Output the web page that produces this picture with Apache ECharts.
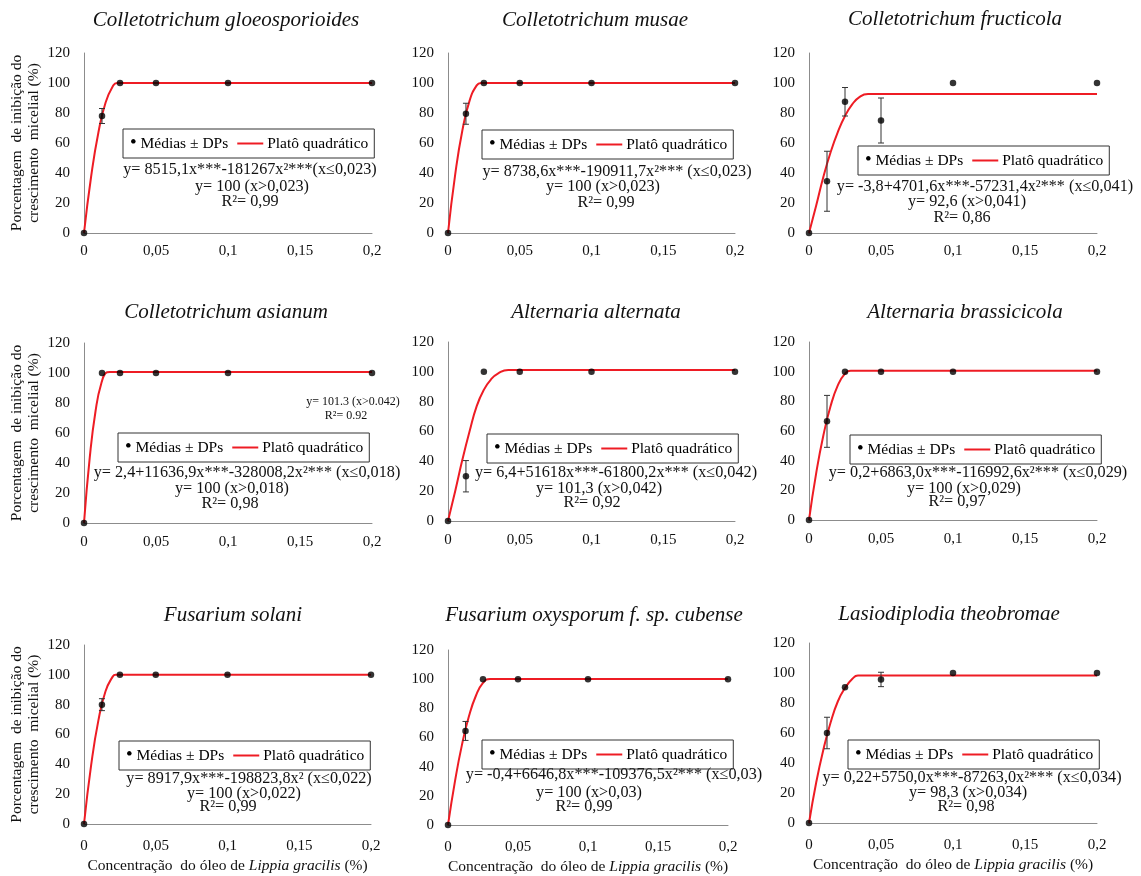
<!DOCTYPE html>
<html><head><meta charset="utf-8">
<script src="https://cdn.jsdelivr.net/npm/echarts@6/dist/echarts.min.js"></script>
<style>html,body{margin:0;padding:0;background:#fff}#c{width:1141px;height:876px}</style>
</head><body><div id="c"></div>
<script>
// ---------- DATA ----------
const xConc = [0, 0.0125, 0.025, 0.05, 0.1, 0.2];
const xTicks = [0, 0.05, 0.1, 0.15, 0.2];
const yTicks = [0, 20, 40, 60, 80, 100, 120];

const panelTitles = [
  'Colletotrichum gloeosporioides', 'Colletotrichum musae', 'Colletotrichum fructicola',
  'Colletotrichum asianum', 'Alternaria alternata', 'Alternaria brassicicola',
  'Fusarium solani', 'Fusarium oxysporum f. sp. cubense', 'Lasiodiplodia theobromae'
];

// means and standard deviations
const meanGloeo = [0, 78, 100, 100, 100, 100];     const sdGloeo = [0, 5, 0, 0, 0, 0];
const meanMusae = [0, 79.5, 100, 100, 100, 100];   const sdMusae = [0, 7, 0, 0, 0, 0];
const meanFruct = [0, 34.5, 87.5, 75, 100, 100];   const sdFruct = [0, 20, 9.5, 15, 0, 0];
const meanAsian = [0, 100, 100, 100, 100, 100];    const sdAsian = [0, 0, 0, 0, 0, 0];
const meanAlter = [0, 30, 100, 100, 100, 100];     const sdAlter = [0, 10.5, 0, 0, 0, 0];
const meanBrass = [0, 66.5, 100, 100, 100, 100];   const sdBrass = [0, 17.5, 0, 0, 0, 0];
const meanSolan = [0, 80, 100, 100, 100, 100];     const sdSolan = [0, 4, 0, 0, 0, 0];
const meanOxysp = [0, 64.5, 100, 100, 100, 100];   const sdOxysp = [0, 6.5, 0, 0, 0, 0];
const meanLasio = [0, 60, 90.5, 95.7, 100, 100];   const sdLasio = [0, 10.5, 0, 4.8, 0, 0];

// fitted "platô quadrático" curves
const fitGloeoX = [0, 0.005, 0.01, 0.015, 0.02, 0.023, 0.2];
const fitGloeoY = [0, 38, 67, 87, 97.8, 100, 100];
const fitMusaeX = [0, 0.005, 0.01, 0.015, 0.02, 0.023, 0.2];
const fitMusaeY = [0, 38.9, 68.3, 88.1, 98.4, 100, 100];
const fitFructX = [0, 0.005, 0.01, 0.015, 0.02, 0.025, 0.03, 0.035, 0.041, 0.2];
const fitFructY = [0, 18.3, 37.5, 53.8, 67.3, 78, 85.7, 90.6, 92.6, 92.6];
const fitAsianX = [0, 0.004, 0.008, 0.012, 0.016, 0.018, 0.2];
const fitAsianY = [0, 43.7, 74.5, 93, 100.5, 100.7, 100.7];
const fitAlterX = [0, 0.005, 0.01, 0.015, 0.02, 0.025, 0.03, 0.035, 0.042, 0.2];
const fitAlterY = [0, 20, 41, 60, 77, 88, 95, 99, 101.3, 101.3];
const fitBrassX = [0, 0.005, 0.01, 0.015, 0.02, 0.025, 0.029, 0.2];
const fitBrassY = [0, 31.6, 57.1, 76.8, 90.7, 98.7, 100.6, 100.6];
const fitSolanX = [0, 0.005, 0.01, 0.015, 0.02, 0.022, 0.2];
const fitSolanY = [0, 39.6, 69.3, 89, 98.8, 100, 100];
const fitOxyspX = [0, 0.005, 0.01, 0.015, 0.02, 0.025, 0.03, 0.2];
const fitOxyspY = [0, 30.1, 55.1, 74.7, 88.8, 97.4, 100.2, 100.2];
const fitLasioX = [0, 0.005, 0.01, 0.015, 0.02, 0.025, 0.03, 0.034, 0.2];
const fitLasioY = [0, 27, 49, 67, 81, 90, 96, 98.3, 98.3];

const equations = [
  ['y= 8515,1x***-181267x²***(x≤0,023)', 'y= 100 (x>0,023)', 'R²= 0,99'],
  ['y= 8738,6x***-190911,7x²*** (x≤0,023)', 'y= 100 (x>0,023)', 'R²= 0,99'],
  ['y= -3,8+4701,6x***-57231,4x²*** (x≤0,041)', 'y= 92,6 (x>0,041)', 'R²= 0,86'],
  ['y= 2,4+11636,9x***-328008,2x²*** (x≤0,018)', 'y= 100 (x>0,018)', 'R²= 0,98'],
  ['y= 6,4+51618x***-61800,2x*** (x≤0,042)', 'y= 101,3 (x>0,042)', 'R²= 0,92'],
  ['y= 0,2+6863,0x***-116992,6x²*** (x≤0,029)', 'y= 100 (x>0,029)', 'R²= 0,97'],
  ['y= 8917,9x***-198823,8x² (x≤0,022)', 'y= 100 (x>0,022)', 'R²= 0,99'],
  ['y= -0,4+6646,8x***-109376,5x²*** (x≤0,03)', 'y= 100 (x>0,03)', 'R²= 0,99'],
  ['y= 0,22+5750,0x***-87263,0x²*** (x≤0,034)', 'y= 98,3 (x>0,034)', 'R²= 0,98']
];
const extraNote = ['y= 101.3 (x>0.042)', 'R²= 0.92'];

const seriesMeans = [meanGloeo, meanMusae, meanFruct, meanAsian, meanAlter, meanBrass, meanSolan, meanOxysp, meanLasio];
const seriesSds = [sdGloeo, sdMusae, sdFruct, sdAsian, sdAlter, sdBrass, sdSolan, sdOxysp, sdLasio];
const fitXs = [fitGloeoX, fitMusaeX, fitFructX, fitAsianX, fitAlterX, fitBrassX, fitSolanX, fitOxyspX, fitLasioX];
const fitYs = [fitGloeoY, fitMusaeY, fitFructY, fitAsianY, fitAlterY, fitBrassY, fitSolanY, fitOxyspY, fitLasioY];

// ---------- LAYOUT / STYLE ----------
const FONT = 'Liberation Serif';
const RED = '#ee1c24';
const AXIS = '#8c8c8c';
const NAME_MEAN = 'Médias ± DPs';
const NAME_FIT = 'Platô quadrático';

const grids = [
  {left: 84, top: 53, width: 288, height: 180},
  {left: 448, top: 53, width: 287, height: 180},
  {left: 809, top: 53, width: 288, height: 180},
  {left: 84, top: 343, width: 288, height: 180},
  {left: 448, top: 342, width: 287, height: 179},
  {left: 809, top: 342, width: 288, height: 178},
  {left: 84, top: 645, width: 287, height: 179},
  {left: 448, top: 650, width: 280, height: 175},
  {left: 809, top: 643, width: 288, height: 180}
];
const legendPos = [[123,129],[482,130],[858,146],[118,433],[487,434],[850,435],[119,741],[482,740],[848,740]];
const titlePos = [[226,20],[595,20],[955,19],[226,312],[596,312],[965,312],[233,615],[594,615],[949,614]];
const eqPos = [
  [[250,170],[252,187],[250,202]],
  [[617,171.5],[603,187],[606,203]],
  [[985,187],[967,201.5],[962,218]],
  [[247,473],[232,489],[230,504]],
  [[616,473],[599,488.5],[592,503]],
  [[978,473],[964,488.5],[957,502]],
  [[249,779],[244,793.5],[228,807]],
  [[614,775],[589,792.5],[584,806.5]],
  [[972,778],[968,792.5],[966,806.5]]
];
const xLabelMargin = [11, 12, 15];

const xAxes = [], yAxes = [], series = [], legends = [], graphics = [];

grids.forEach((g, i) => {
  g.outerBoundsMode = 'none';
  const row = Math.floor(i / 3), col = i % 3;
  const xa = {
    type: 'value', gridIndex: i, min: xTicks[0], max: xTicks[xTicks.length - 1], interval: xTicks[1] - xTicks[0],
    axisLine: {show: true, onZero: false, lineStyle: {color: AXIS, width: 1}},
    axisTick: {show: false}, splitLine: {show: false},
    axisLabel: {fontFamily: FONT, fontSize: 15, color: '#111', margin: xLabelMargin[row],
      formatter: v => String(+v.toFixed(4)).replace('.', ',')}
  };
  if (row === 2) {
    xa.name = '{n|Concentração  do óleo de }{i|Lippia gracilis}{n| (%)}';
    xa.nameLocation = 'middle';
    xa.nameGap = 34;
    xa.nameTextStyle = {fontFamily: FONT, fontSize: 15.5, color: '#111',
      rich: {n: {fontFamily: FONT, fontSize: 15.5, color: '#111'},
             i: {fontFamily: FONT, fontSize: 15.5, color: '#111', fontStyle: 'italic'}}};
  }
  xAxes.push(xa);
  const ya = {
    type: 'value', gridIndex: i, min: yTicks[0], max: yTicks[yTicks.length - 1], interval: yTicks[1] - yTicks[0],
    axisLine: {show: true, lineStyle: {color: AXIS, width: 1}},
    axisTick: {show: false}, splitLine: {show: false},
    axisLabel: {fontFamily: FONT, fontSize: 15, color: '#111', margin: 14}
  };
  if (col === 0) {
    ya.name = 'Porcentagem  de inibição do\ncrescimento  micelial (%)';
    ya.nameLocation = 'middle';
    ya.nameGap = 42;
    ya.nameTextStyle = {fontFamily: FONT, fontSize: 15.5, color: '#111', lineHeight: 17};
  }
  yAxes.push(ya);

  const fx = fitXs[i], fy = fitYs[i], m = seriesMeans[i], sd = seriesSds[i];
  series.push({
    type: 'line', name: NAME_FIT, xAxisIndex: i, yAxisIndex: i,
    data: fx.map((x, j) => [x, fy[j]]),
    symbol: 'none', smooth: 0.5,
    lineStyle: {color: RED, width: 2}, itemStyle: {color: RED}, z: 2, silent: true
  });
  const errData = [];
  xConc.forEach((x, j) => { if (sd[j] > 0) errData.push([x, m[j] - sd[j], m[j] + sd[j]]); });
  series.push({
    type: 'custom', name: 'err' + i, xAxisIndex: i, yAxisIndex: i, data: errData,
    encode: {x: 0, y: [1, 2]}, z: 3, silent: true,
    renderItem: (params, api) => {
      const x = api.value(0);
      const lo = api.coord([x, api.value(1)]), hi = api.coord([x, api.value(2)]);
      const cap = 3, st = {stroke: '#333', lineWidth: 1};
      return {type: 'group', children: [
        {type: 'line', shape: {x1: lo[0], y1: lo[1], x2: hi[0], y2: hi[1]}, style: st},
        {type: 'line', shape: {x1: lo[0] - cap, y1: lo[1], x2: lo[0] + cap, y2: lo[1]}, style: st},
        {type: 'line', shape: {x1: hi[0] - cap, y1: hi[1], x2: hi[0] + cap, y2: hi[1]}, style: st}
      ]};
    }
  });
  series.push({
    type: 'scatter', name: NAME_MEAN, xAxisIndex: i, yAxisIndex: i,
    data: xConc.map((x, j) => [x, m[j]]),
    symbol: 'circle', symbolSize: 6.5, itemStyle: {color: '#000'}, z: 4, silent: true
  });

  legends.push({
    data: [NAME_MEAN, NAME_FIT], left: legendPos[i][0], top: legendPos[i][1],
    orient: 'horizontal', icon: 'none', itemWidth: 0, itemHeight: 14, itemGap: 4,
    padding: [5, 6, 5, 2], borderColor: '#333', borderWidth: 1, selectedMode: false,
    textStyle: {fontFamily: FONT, fontSize: 15.5, color: '#000',
      rich: {d: {fontFamily: FONT, fontSize: 19, color: '#000'},
             l: {width: 26, height: 2, backgroundColor: RED}}},
    formatter: name => name === NAME_MEAN ? '{d|•} ' + name : '{l| } ' + name
  });

  graphics.push({type: 'text', x: titlePos[i][0], y: titlePos[i][1], silent: true,
    style: {text: panelTitles[i], font: 'italic 21px "Liberation Serif"', fill: '#111',
      align: 'center', verticalAlign: 'middle', textAlign: 'center', textVerticalAlign: 'middle'}});
  equations[i].forEach((t, k) => {
    graphics.push({type: 'text', x: eqPos[i][k][0], y: eqPos[i][k][1], silent: true,
      style: {text: t, font: '16.2px "Liberation Serif"', fill: '#111',
        align: 'center', verticalAlign: 'middle', textAlign: 'center', textVerticalAlign: 'middle'}});
  });
});

// small note in the C. asianum panel
graphics.push({type: 'text', x: 353, y: 402, silent: true,
  style: {text: extraNote[0], font: '12px "Liberation Serif"', fill: '#111',
    align: 'center', verticalAlign: 'middle', textAlign: 'center', textVerticalAlign: 'middle'}});
graphics.push({type: 'text', x: 346, y: 416, silent: true,
  style: {text: extraNote[1], font: '12px "Liberation Serif"', fill: '#111',
    align: 'center', verticalAlign: 'middle', textAlign: 'center', textVerticalAlign: 'middle'}});

const chart = echarts.init(document.getElementById('c'), null, {renderer: 'canvas'});
chart.setOption({
  backgroundColor: '#fff',
  animation: false,
  grid: grids,
  xAxis: xAxes,
  yAxis: yAxes,
  legend: legends,
  series: series,
  graphic: graphics
});
</script></body></html>
